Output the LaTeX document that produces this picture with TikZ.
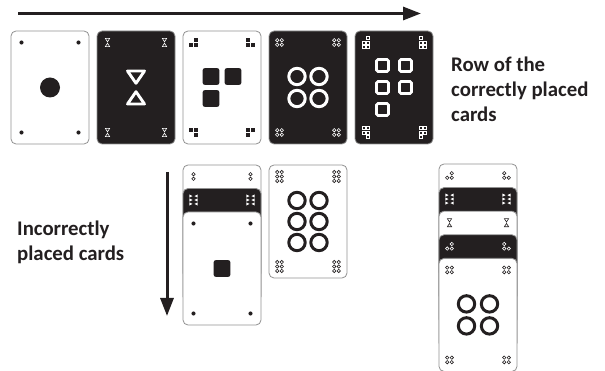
\documentclass[tikz,border=0pt]{standalone}
\usepackage{fontspec}
\newfontfamily\labelfont{Carlito}
\usetikzlibrary{arrows.meta, positioning, calc}
\definecolor{cardblack}{RGB}{35,31,32}
\definecolor{cardedge}{RGB}{145,145,145}

% small corner signs, drawn round the origin
\newcommand{\pipdot}{\fill (0,0) circle (1.7pt);}
\newcommand{\piphour}{\draw[line width=0.6pt] (-1.8,-3.4) -- (1.8,-3.4) -- (0,-0.6) -- cycle (-1.8,3.4) -- (1.8,3.4) -- (0,0.6) -- cycle;}
\newcommand{\pipthree}{\foreach \x/\y in {-2/-2,2/-2,-2/2} \fill (\x-1.6,\y-1.6) rectangle (\x+1.6,\y+1.6);}
\newcommand{\piptwo}{\foreach \y in {-1.9,1.9} \draw[line width=0.6pt] (0,\y) circle (1.4pt);}
\newcommand{\pipring}{\foreach \x/\y in {-1.9/-1.9,1.9/-1.9,-1.9/1.9} \draw[line width=0.6pt] (\x,\y) circle (1.4pt);}
\newcommand{\pipfour}{\foreach \x/\y in {-1.9/-1.9,1.9/-1.9,-1.9/1.9,1.9/1.9} \draw[line width=0.6pt] (\x,\y) circle (1.4pt);}
\newcommand{\pipsix}{\foreach \x in {-1.9,1.9} \foreach \y in {-3.7,0,3.7} \draw[line width=0.6pt] (\x,\y) circle (1.4pt);}
\newcommand{\pipfive}{\foreach \x/\y in {-1.8/-3.6,1.8/-3.6,-1.8/0,1.8/0,-1.8/3.6} \draw[line width=0.5pt] (\x-1.2,\y-1.2) rectangle (\x+1.2,\y+1.2);}
\newcommand{\piptri}{\foreach \y in {-3.3,0,3.3} \fill (-3.4,\y-1.3) -- (-0.8,\y) -- (-3.4,\y+1.3) -- cycle (3.4,\y-1.3) -- (0.8,\y) -- (3.4,\y+1.3) -- cycle;}
% the same sign in the four corners of a card
\newcommand{\cardpips}[3][black]{%
  \foreach \sx/\sy in {-1/-1,1/-1,-1/1,1/1}{%
    \begin{scope}[shift={(#2.center)}, shift={(\sx*28.5,\sy*45)}, xscale=\sx, yscale=\sy, scale=1.2, #1]
      #3
    \end{scope}}}

\begin{document}
\begin{tikzpicture}[x=1pt, y=-1pt,
      card/.style={rectangle, rounded corners=5pt, draw=cardedge, line width=0.8pt, minimum width=78pt, minimum height=113pt, inner sep=0pt},
      wcard/.style={card, fill=white},
      bcard/.style={card, fill=cardblack},
      caption/.style={align=left, anchor=north west, inner sep=0pt, text=cardblack, font=\labelfont\bfseries\fontsize{20.8}{24.8}\selectfont},
      flow/.style={draw=cardblack, line width=3pt, -{Triangle[length=18pt, width=13pt]}},
      ring/.style={line width=3pt},
    ]
    \useasboundingbox (0,0) rectangle (605,371);

    % Arrows
    \coordinate (rowstart) at (18,13.5);
    \coordinate (rowend) at (421,13.5);
    \draw[flow] (rowstart) -- (rowend);
    \coordinate (colstart) at (167,172);
    \coordinate (colend) at (167,316);
    \draw[flow] (colstart) -- (colend);

    % Row of cards
    \node[wcard] (one) at (50,87.5) {};
    \node[bcard, right=7.2pt of one] (two) {};
    \node[wcard, right=7.2pt of two] (three) {};
    \node[bcard, right=7.2pt of three] (four) {};
    \node[bcard, right=7.2pt of four] (five) {};

    \fill[cardblack] (one.center) circle (10pt);
    \cardpips[cardblack]{one}{\pipdot}

    \begin{scope}[shift={(two.center)}, white, line width=2.9pt, line join=round]
      \draw (-8.5,-16.5) -- (8.5,-16.5) -- (0,-4.2) -- cycle;
      \draw (-8.5,16.5) -- (8.5,16.5) -- (0,4.2) -- cycle;
    \end{scope}
    \cardpips[white]{two}{\piphour}

    \begin{scope}[shift={(three.center)}, cardblack]
      \foreach \x/\y in {-11/-11,11/-11,-11/11}
        \fill[rounded corners=2pt] (\x-8.3,\y-8.3) rectangle (\x+8.3,\y+8.3);
    \end{scope}
    \cardpips[cardblack]{three}{\pipthree}

    \begin{scope}[shift={(four.center)}, white, ring]
      \foreach \x/\y in {-11/-11,11/-11,-11/11,11/11}
        \draw (\x,\y) circle (8.2pt);
    \end{scope}
    \cardpips[white]{four}{\pipfour}

    \begin{scope}[shift={(five.center)}, white, line width=2.8pt]
      \foreach \x/\y in {-11.5/-22,11.5/-22,-11.5/0,11.5/0,-11.5/22}
        \draw[rounded corners=1.5pt] (\x-6,\y-6) rectangle (\x+6,\y+6);
    \end{scope}
    \cardpips[white]{five}{\pipfive}

    % Incorrectly placed cards
    \node[wcard] (lowa) at (222,221.5) {};
    \cardpips[cardblack]{lowa}{\piptwo}
    \node[bcard, below=23.5pt of lowa.north] (lowb) {};
    \cardpips[white]{lowb}{\piptri}
    \node[wcard, below=23.5pt of lowb.north] (lowc) {};
    \cardpips[cardblack]{lowc}{\pipdot}
    \fill[cardblack, rounded corners=2pt] ($(lowc.center)+(-8.3,-8.3)$) rectangle ($(lowc.center)+(8.3,8.3)$);

    \node[wcard, right=7.2pt of lowa] (side) {};
    \begin{scope}[shift={(side.center)}, cardblack, ring]
      \foreach \x in {-11,11} \foreach \y in {-21,0,21}
        \draw (\x,\y) circle (8.2pt);
    \end{scope}
    \cardpips[cardblack]{side}{\pipsix}

    \node[wcard] (pilea) at (478,220.5) {};
    \cardpips[cardblack]{pilea}{\pipring}
    \node[bcard, below=23.6pt of pilea.north] (pileb) {};
    \cardpips[white]{pileb}{\piptri}
    \node[wcard, below=23.6pt of pileb.north] (pilec) {};
    \cardpips[cardblack]{pilec}{\piphour}
    \node[bcard, below=23.6pt of pilec.north] (piled) {};
    \cardpips[white]{piled}{\pipring}
    \node[wcard, below=23.6pt of piled.north] (pilee) {};
    \begin{scope}[shift={(pilee.center)}, cardblack, ring]
      \foreach \x/\y in {-11.5/-11,11.5/-11,-11.5/11,11.5/11}
        \draw (\x,\y) circle (8.2pt);
    \end{scope}
    \cardpips[cardblack]{pilee}{\pipfour}

    % Labels
    \node[caption] (rowlabel) at (451,57) {Row of the\\correctly placed\\cards};
    \node[caption] (wronglabel) at (17,221) {Incorrectly\\placed cards};
\end{tikzpicture}
\end{document}
